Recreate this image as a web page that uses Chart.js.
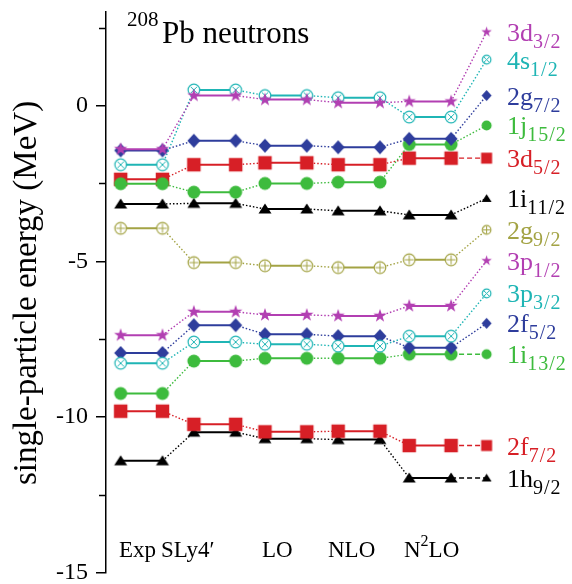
<!DOCTYPE html>
<html>
<head>
<meta charset="utf-8">
<script src="https://cdn.jsdelivr.net/npm/chart.js@4.4.1/dist/chart.umd.min.js"></script>
<style>
  html, body { margin: 0; padding: 0; background: #fff; }
  canvas { display: block; }
</style>
</head>
<body>
<canvas id="levels" width="572" height="584"></canvas>
<script>
// neutron single-particle levels (MeV), top to bottom as labelled on the right
const orbitals = ["3d", "4s", "2g", "1j", "3d", "1i", "2g", "3p", "3p", "2f", "1i", "2f", "1h"];
const spins = ["3/2", "1/2", "7/2", "15/2", "5/2", "11/2", "9/2", "1/2", "3/2", "5/2", "13/2", "7/2", "9/2"];

const expE  = [-1.40, -1.90, -1.44, -2.51, -2.37, -3.16, -3.94, -7.37, -8.27, -7.94, -9.24, -9.81, -11.40];
const sly4E = [0.32, 0.50, -1.13, -2.78, -1.90, -3.14, -5.04, -6.62, -7.59, -7.05, -8.20, -10.23, -10.48];
const loE   = [0.19, 0.32, -1.29, -2.50, -1.84, -3.32, -5.14, -6.72, -7.66, -7.34, -8.11, -10.47, -10.69];
const nloE  = [0.09, 0.25, -1.34, -2.46, -1.90, -3.38, -5.20, -6.75, -7.72, -7.40, -8.11, -10.45, -10.72];
const n2loE = [0.13, -0.37, -1.07, -1.25, -1.69, -3.51, -4.95, -6.43, -7.40, -7.77, -7.98, -10.91, -11.95];
// where each name sits on the right-hand side
const tagE  = [2.36, 1.47, 0.32, -0.64, -1.69, -2.98, -3.99, -4.98, -6.03, -6.99, -7.98, -10.91, -11.95];

const models = ["Exp", "SLy4\u2032", "LO", "NLO", "N"];
const yTicks = [-15, -12.5, -10, -7.5, -5, -2.5, 0, 2.5];

// x slots: two ends per model, then the tag marker
const xSlots = [0, 1, 1.75, 2.75, 3.45, 4.45, 5.2, 6.2, 6.9, 7.9, 8.75];

const PURPLE = "#b23fb2", CYAN = "#1fb5b5", BLUE = "#2e3d9c", GREEN = "#3dbb3d",
      RED = "#d71f26", BLACK = "#000000", OLIVE = "#a3a344";
const colors = [PURPLE, CYAN, BLUE, GREEN, RED, BLACK, OLIVE, PURPLE, CYAN, BLUE, GREEN, RED, BLACK];
const shapes = ["star", "otimes", "diamond", "circle", "square", "triangle", "oplus",
                "star", "otimes", "diamond", "circle", "square", "triangle"];
const dashedTag = [false, false, false, false, true, false, false, false, false, false, true, true, true];

const SERIF = "'Liberation Serif', 'Times New Roman', serif";

function marker(kind, color, s) {
  const c = document.createElement("canvas");
  c.width = c.height = Math.ceil(s + 3);
  const g = c.getContext("2d");
  const m = c.width / 2, r = s / 2;
  g.fillStyle = color;
  g.strokeStyle = color;
  g.beginPath();
  if (kind === "square") {
    g.rect(m - r, m - r, s, s);
    g.fill();
  } else if (kind === "circle") {
    g.arc(m, m, r, 0, Math.PI * 2);
    g.fill();
  } else if (kind === "diamond") {
    g.moveTo(m, m - r - 0.5); g.lineTo(m + r, m); g.lineTo(m, m + r + 0.5); g.lineTo(m - r, m);
    g.closePath();
    g.fill();
  } else if (kind === "triangle") {
    g.moveTo(m, m - r * 0.85); g.lineTo(m + r, m + r * 0.7); g.lineTo(m - r, m + r * 0.7);
    g.closePath();
    g.fill();
  } else if (kind === "star") {
    for (let i = 0; i < 10; i++) {
      const a = -Math.PI / 2 + i * Math.PI / 5;
      const rr = i % 2 ? r * 0.42 : r + 0.5;
      g.lineTo(m + rr * Math.cos(a), m + rr * Math.sin(a));
    }
    g.closePath();
    g.fill();
  } else {
    g.fillStyle = "#fff";
    g.arc(m, m, r - 0.7, 0, Math.PI * 2);
    g.fill();
    g.lineWidth = 1.2;
    g.stroke();
    g.beginPath();
    g.lineWidth = 1;
    const k = kind === "otimes" ? r * 0.5 : r * 0.7;
    if (kind === "otimes") {
      g.moveTo(m - k, m - k); g.lineTo(m + k, m + k);
      g.moveTo(m - k, m + k); g.lineTo(m + k, m - k);
    } else {
      g.moveTo(m - k, m); g.lineTo(m + k, m);
      g.moveTo(m, m - k); g.lineTo(m, m + k);
    }
    g.stroke();
  }
  return c;
}

const datasets = orbitals.map((name, i) => {
  const values = [expE[i], expE[i], sly4E[i], sly4E[i], loE[i], loE[i],
                  nloE[i], nloE[i], n2loE[i], n2loE[i], tagE[i]];
  const big = marker(shapes[i], colors[i], shapes[i] === "square" ? 13.5 : 13);
  const small = marker(shapes[i], colors[i], shapes[i] === "square" ? 11 : 10);
  return {
    label: name + spins[i],
    data: values.map((v, k) => ({ x: xSlots[k], y: v })),
    borderColor: colors[i],
    backgroundColor: colors[i],
    borderWidth: 2,
    borderCapStyle: "butt",
    pointStyle: ctx => ctx.dataIndex === 10 ? small : big,
    pointRadius: 6,
    tension: 0,
    segment: {
      borderDash: ctx => ctx.p0DataIndex % 2 === 0 ? [] :
        (ctx.p0DataIndex === 9 && dashedTag[i] ? [5, 3] : [1.5, 2]),
      borderWidth: ctx => ctx.p0DataIndex % 2 === 0 ? 2 : 1.4
    }
  };
});

const decor = {
  id: "decor",
  afterDraw(chart) {
    const { ctx, scales: { y } } = chart;
    const left = chart.chartArea.left;
    ctx.save();

    // minor ticks
    ctx.strokeStyle = "#000";
    ctx.lineWidth = 1.5;
    yTicks.filter(v => v % 5 !== 0).forEach(v => {
      const py = Math.round(y.getPixelForValue(v)) + 0.5;
      ctx.beginPath();
      ctx.moveTo(left - 7, py);
      ctx.lineTo(left, py);
      ctx.stroke();
    });

    // axis title
    ctx.save();
    ctx.translate(36, 293);
    ctx.rotate(-Math.PI / 2);
    ctx.fillStyle = "#000";
    ctx.font = "33px " + SERIF;
    ctx.textAlign = "center";
    ctx.textBaseline = "alphabetic";
    ctx.fillText("single-particle energy (MeV)", 0, 0);
    ctx.restore();

    ctx.textAlign = "left";
    ctx.textBaseline = "alphabetic";
    ctx.fillStyle = "#000";

    // title
    ctx.font = "21px " + SERIF;
    ctx.fillText("208", 127, 26);
    ctx.font = "31px " + SERIF;
    ctx.fillText("Pb neutrons", 162, 43);

    // model names along the bottom
    const nameX = [119, 161, 262, 328, 404];
    ctx.font = "23px " + SERIF;
    models.forEach((m, k) => ctx.fillText(m, nameX[k], 557));
    const nW = ctx.measureText("N").width;
    ctx.font = "16px " + SERIF;
    ctx.fillText("2", nameX[4] + nW, 546);
    const twoW = ctx.measureText("2").width;
    ctx.font = "23px " + SERIF;
    ctx.fillText("LO", nameX[4] + nW + twoW, 557);

    // level names on the right
    orbitals.forEach((name, i) => {
      const py = y.getPixelForValue(tagE[i]);
      ctx.fillStyle = colors[i];
      ctx.letterSpacing = "0px";
      ctx.font = "26px " + SERIF;
      ctx.fillText(name, 507, py + 9);
      const w = ctx.measureText(name).width;
      ctx.font = "20px " + SERIF;
      ctx.letterSpacing = "1px";
      ctx.fillText(spins[i], 507 + w, py + 16);
    });
    ctx.letterSpacing = "0px";
    ctx.restore();
  }
};

new Chart(document.getElementById("levels"), {
  type: "line",
  data: { datasets },
  options: {
    responsive: false,
    animation: false,
    layout: { padding: { top: 12, bottom: 11, left: 0, right: 0 } },
    plugins: { legend: { display: false }, tooltip: { enabled: false } },
    scales: {
      x: { type: "linear", display: false, min: -0.35, max: 10.6 },
      y: {
        min: -15,
        max: 3,
        afterBuildTicks: s => { s.ticks = yTicks.map(v => ({ value: v })); },
        afterFit: s => {
          s.width = 106;
          s.paddingTop = 0;
          s.paddingBottom = 0;
        },
        border: { display: true, color: "#000", width: 1.5 },
        grid: {
          drawOnChartArea: false,
          tickLength: 10,
          lineWidth: 1.5,
          tickColor: ctx => ctx.tick && ctx.tick.value % 5 === 0 ? "#000" : "rgba(0,0,0,0)"
        },
        ticks: {
          padding: 8,
          color: "#000",
          font: { family: SERIF, size: 24 },
          callback: v => v % 5 === 0 ? String(v) : ""
        }
      }
    }
  },
  plugins: [decor]
});
</script>
</body>
</html>
